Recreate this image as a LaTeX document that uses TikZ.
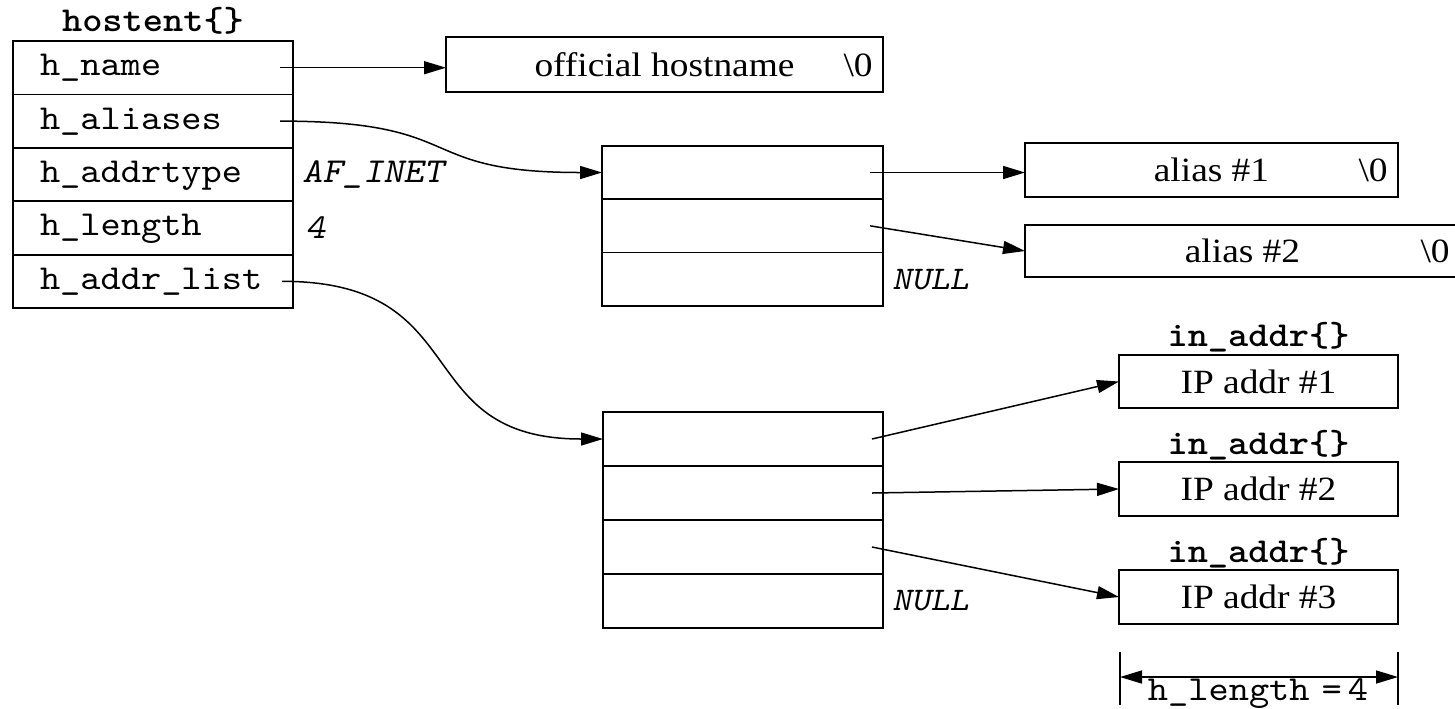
\documentclass[tikz,border=0pt]{standalone}
\usepackage{fontspec}
\setmainfont{Liberation Serif}[FakeStretch=1.1]
\setmonofont{lmmono10-regular.otf}[BoldFont=lmmonolt10-bold.otf, FakeStretch=1.1]
\newfontfamily\obliquemono{lmmono10-regular.otf}[FakeSlant=0.2, FakeStretch=1.1]
\usetikzlibrary{arrows.meta,calc}

\newcommand\codesize{\fontsize{17.5pt}{21pt}\selectfont}
\newcommand\textsz{\fontsize{17pt}{20pt}\selectfont}

\tikzset{
  cell/.style={draw, line width=0.9pt, inner sep=0pt, outer sep=0pt},
  field/.style={cell, minimum width=140pt, minimum height=26.7pt,
    text width=113pt, align=left, inner xsep=13.5pt,
    text height=11pt, text depth=3pt, font=\ttfamily\codesize},
  slot/.style={cell, minimum width=140.5pt, minimum height=26.7pt},
  strbox/.style={cell, minimum height=27pt, font=\textsz},
  tailtext/.style={inner sep=0pt, anchor=base east, font=\textsz},
  typename/.style={inner sep=0pt, anchor=base, font=\ttfamily\bfseries\codesize},
  value/.style={inner sep=0pt, anchor=west, font=\obliquemono\codesize},
  ptr/.style={line width=0.75pt, -{Triangle[length=11pt,width=6.5pt]}},
  dimline/.style={line width=0.75pt, {Triangle[length=11pt,width=6.5pt]}-{Triangle[length=11pt,width=6.5pt]}},
  dimtick/.style={line width=0.6pt},
}

\begin{document}
\begin{tikzpicture}[x=0.5pt, y=-0.5pt]
\useasboundingbox (0,0) rectangle (1455,708);

% struct hostent
\node[field] (hname)  at (153,67.7)  {h\_name};
\node[field] (halias) at (153,121.1) {h\_aliases};
\node[field] (htype)  at (153,174.5) {h\_addrtype};
\node[field] (hlen)   at (153,227.9) {h\_length};
\node[field] (hlist)  at (153,281.3) {h\_addr\_list};
\node[typename] (hosttitle) at ([yshift=5pt]hname.north) {hostent\{\}};

\node[value] (afinet) at ([xshift=4.5pt]htype.east) {AF\_INET};
\node[value] (lenval) at ([xshift=6pt]hlen.east) {4};

% official name string
\node[strbox, minimum width=218.5pt, minimum height=27.5pt] (official) at (664.5,64.5) {official hostname\vphantom{\textbackslash}};
\node[tailtext] (nul0) at ([xshift=-5pt]official.base east) {\textbackslash 0};

% alias pointer array
\node[slot] (al1) at (742.5,172.5) {};
\node[slot] (al2) at (742.5,225.8) {};
\node[slot] (al3) at (742.5,279.2) {};
\node[value, font=\obliquemono\fontsize{16.5pt}{20pt}\selectfont] (alnull) at ([xshift=4.5pt]al3.east) {NULL};

% alias strings
\node[strbox, minimum width=186.5pt] (alias1) at (1211.5,170) {alias \#1\vphantom{\textbackslash}};
\node[tailtext] (nul1) at ([xshift=-5pt]alias1.base east) {\textbackslash 0};
\node[strbox, minimum width=217.5pt, minimum height=26pt] (alias2) at (1242.5,251) {alias \#2\vphantom{\textbackslash}};
\node[tailtext] (nul2) at ([xshift=-5pt]alias2.base east) {\textbackslash 0};

% address pointer array
\node[slot, minimum width=140pt, minimum height=27pt] (ad1) at (743,439) {};
\node[slot, minimum width=140pt, minimum height=27pt] (ad2) at (743,493) {};
\node[slot, minimum width=140pt, minimum height=27pt] (ad3) at (743,547) {};
\node[slot, minimum width=140pt, minimum height=27pt] (ad4) at (743,601) {};
\node[value, font=\obliquemono\fontsize{16.5pt}{20pt}\selectfont] (adnull) at ([xshift=4.5pt]ad4.east) {NULL};

% in_addr structures
\node[strbox, minimum width=139.5pt, minimum height=26.75pt] (ip1) at (1258.5,381.5) {IP addr \#1};
\node[strbox, minimum width=139.5pt, minimum height=26.75pt] (ip2) at (1258.5,489) {IP addr \#2};
\node[strbox, minimum width=139.5pt, minimum height=26.75pt] (ip3) at (1258.5,597) {IP addr \#3};
\node[typename] (ia1) at ([yshift=4pt]ip1.north) {in\_addr\{\}};
\node[typename] (ia2) at ([yshift=4pt]ip2.north) {in\_addr\{\}};
\node[typename] (ia3) at ([yshift=4pt]ip3.north) {in\_addr\{\}};

% pointer origins
\coordinate (pname)  at ([xshift=-6.5pt]hname.east);
\coordinate (palias) at ([xshift=-6.5pt]halias.east);
\coordinate (plist)  at ([xshift=-5.5pt]hlist.east);
\coordinate (pa1) at ([xshift=-6.5pt]al1.east);
\coordinate (pa2) at ([xshift=-6.5pt]al2.east);
\coordinate (pd1) at ([xshift=-5.5pt]ad1.east);
\coordinate (pd2) at ([xshift=-5.5pt]ad2.east);
\coordinate (pd3) at ([xshift=-5.5pt]ad3.east);

% pointers
\draw[ptr] (pname) -- (pname -| official.west);
\draw[ptr] (palias) to[out=0, in=180, looseness=1.5] (al1.west);
\draw[ptr] (plist) to[out=0, in=180, looseness=1.4] (ad1.west);
\draw[ptr] (pa1) -- (pa1 -| alias1.west);
\draw[ptr] (pa2) -- (alias2.west);
\draw[ptr] (pd1) -- (ip1.west);
\draw[ptr] (pd2) -- (ip2.west);
\draw[ptr] (pd3) -- (ip3.west);

% size of one address
\coordinate (dimL) at (1120,677);
\coordinate (dimR) at (1398,677);
\draw[dimtick] (1120,652) -- (1120,705);
\draw[dimtick] (1398,652) -- (1398,705);
\draw[dimline] (dimL) -- (dimR);
\node[inner sep=0pt, anchor=base, font=\ttfamily\codesize] (dimlabel) at (1258,700) {h\_length\hspace{6pt}=\hspace{3pt}4};
\end{tikzpicture}
\end{document}
